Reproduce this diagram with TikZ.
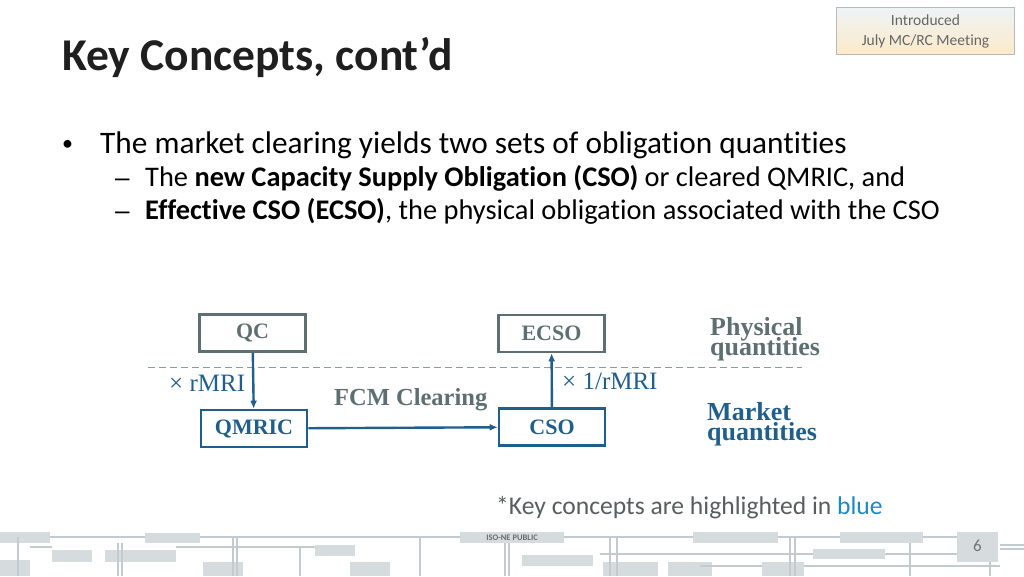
\documentclass[tikz,border=0pt]{standalone}
\usepackage{fontspec}
\setmainfont{Carlito}[Ligatures=NoCommon]
\newfontfamily\diagfont{Liberation Serif}
\newfontfamily\dashfont{Liberation Sans}
\usetikzlibrary{arrows.meta}
\definecolor{obblue}{HTML}{1F5F8E}
\definecolor{obgray}{HTML}{5E6F72}
\definecolor{notegray}{HTML}{595D60}
\definecolor{hiblue}{HTML}{1A8ACB}
\definecolor{chipgray}{HTML}{D6DBDE}
\definecolor{wiregray}{HTML}{C3CBCF}
\definecolor{tagtop}{HTML}{EEF3F6}
\definecolor{tagbottom}{HTML}{FCEAC9}
\newcommand\tightlines{\setlength{\lineskiplimit}{-30pt}}
\begin{document}
\begin{tikzpicture}[x=1pt,y=-1pt]
        % Styles
        \tikzstyle{physical box}=[draw=obgray,line width=2.6pt,text=obgray,minimum width=106pt,minimum height=37pt,font=\diagfont\bfseries\fontsize{22}{24}\selectfont]
        \tikzstyle{market box}=[physical box,draw=obblue,text=obblue]
        \tikzstyle{flow}=[draw=obblue,line width=2.4pt,-{Latex[length=8pt,width=7pt]}]
        \tikzstyle{factor text}=[anchor=base west,inner sep=0pt,text=obblue,font=\diagfont\fontsize{25}{26}\selectfont]
        \tikzstyle{level text}=[align=left,anchor=north west,inner sep=0pt,font=\diagfont\bfseries\fontsize{26}{20}\selectfont\tightlines]
        \tikzstyle{slide text}=[anchor=base west,inner sep=0pt]
        \tikzstyle{chip}=[fill=chipgray]
        \tikzstyle{wire}=[draw=wiregray,line width=1.2pt]
        \useasboundingbox (0,0) rectangle (1024,576);
        %The slide
        %tag box
        \node[draw=gray!55,line width=0.8pt,top color=tagtop,bottom color=tagbottom,minimum width=178pt,minimum height=47pt,align=center,text=gray!80!black,font=\fontsize{15.5}{20}\selectfont] (tag) at (925.5,31) {Introduced\\July MC/RC Meeting};
        \node[slide text,font=\bfseries\fontsize{45.5}{48}\selectfont,text=black!88] (title) at (62,70) {Key Concepts, cont’d};
        %bullets
        \node[slide text,font=\fontsize{22}{30}\selectfont] (dot) at (62,150) {•};
        \node[slide text,font=\fontsize{31.3}{34}\selectfont] (point) at (100,153) {The market clearing yields two sets of obligation quantities};
        \node[slide text,font=\dashfont\fontsize{26}{28}\selectfont] (dash a) at (115,186) {–};
        \node[slide text,font=\fontsize{28.4}{30}\selectfont] (sub a) at (145,186) {The \textbf{new Capacity Supply Obligation (CSO)} or cleared QMRIC, and};
        \node[slide text,font=\dashfont\fontsize{26}{28}\selectfont] (dash b) at (115,219) {–};
        \node[slide text,font=\fontsize{28.4}{30}\selectfont] (sub b) at (145,219) {\textbf{Effective CSO (ECSO)}, the physical obligation associated with the CSO};
        %boxes
        \node[physical box] (qc) at (252.5,333) {QC};
        \node[physical box] (ecso) at (551.5,333.5) {ECSO};
        \node[market box] (qmric) at (254,428.5) {QMRIC};
        \node[market box] (cso) at (552,427) {CSO};
        %levels
        \coordinate (left end) at (148,367);
        \coordinate (right end) at (802,367);
        \draw[obgray!70,line width=1pt,dash pattern=on 7pt off 4pt] (left end) -- (right end);
        \node[level text,text=obgray] (physical) at (710,317) {Physical\\quantities};
        \node[level text,text=obblue] (market) at (707,402) {Market\\quantities};
        %arrows
        \draw[flow] (qc) -- (qmric);
        \draw[flow] (cso) -- (ecso);
        \draw[flow] (qmric) -- (cso);
        \node[factor text] (rate) at (169,391) {× rMRI};
        \node[factor text] (inverse) at (562,389) {× 1/rMRI};
        \node[slide text,text=obgray,font=\diagfont\bfseries\fontsize{24.5}{26}\selectfont] (clearing) at (334,405) {FCM Clearing};
        %note
        \node[slide text,text=notegray,font=\fontsize{25.6}{28}\selectfont] (note) at (496,514) {*Key concepts are highlighted in \textcolor{hiblue}{blue}};
        %footer
        \foreach \xa/\ya/\xb/\yb in {0/532/50/543, 52/550/92/562, 105/550/176/562, 145/533/200/543, 0/560/30/576,
            203/562/243/576, 315/545/355/556, 350/562/390/576, 522/555/593/566, 603/562/658/576, 668/562/700/576,
            693/532/778/543, 840/532/923/543, 813/549/885/559, 762/562/804/576, 680/562/712/576, 460/532/564/543}
            \fill[chip] (\xa,\ya) rectangle (\xb,\yb);
        \foreach \xa/\ya/\xb/\yb in {50/537/145/537, 30/547/52/547, 176/547/315/547, 200/537/460/537, 564/537/693/537,
            778/537/840/537, 923/537/957/537, 600/554/813/554, 885/554/957/554, 700/566/762/566, 804/566/1000/566,
            118/543/118/576, 122/543/122/576, 233/537/233/576, 237/537/237/576, 300/547/300/576, 420/537/420/576,
            505/543/505/576, 509/543/509/576, 610/537/610/576, 617/537/617/576, 790/537/790/576, 795/537/795/576,
            910/543/910/576, 1000/545/1024/545, 1000/549/1024/549, 990/562/990/576, 18/537/18/576}
            \draw[wire] (\xa,\ya) -- (\xb,\yb);
        \node[font=\fontsize{8.5}{9}\selectfont\bfseries,text=gray!85!black] (public) at (512,538) {ISO-NE PUBLIC};
        \fill[chip] (957,532) rectangle (998,562);
        \node[font=\fontsize{17}{18}\selectfont,text=gray!90!black] (page) at (977.5,546) {6};
\end{tikzpicture}
\end{document}
